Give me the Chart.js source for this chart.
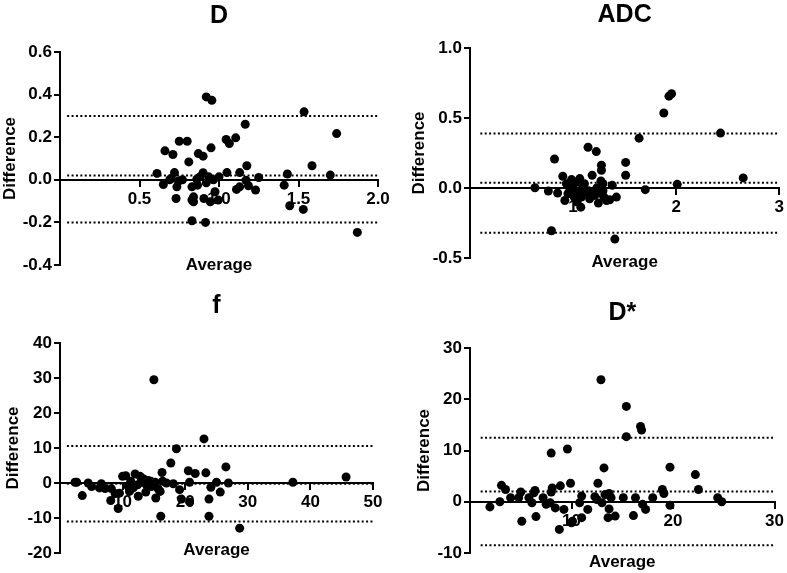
<!DOCTYPE html>
<html>
<head>
<meta charset="utf-8">
<script src="https://cdn.jsdelivr.net/npm/chart.js@4"></script>
<style>
  body { margin: 0; background: #fff; width: 787px; height: 573px; position: relative; overflow: hidden; }
  canvas { position: absolute; }
</style>
</head>
<body>
<canvas id="cD" width="395" height="286" style="left:0;top:0"></canvas>
<canvas id="cADC" width="392" height="286" style="left:395px;top:0"></canvas>
<canvas id="cF" width="395" height="283" style="left:0;top:290px"></canvas>
<canvas id="cDs" width="392" height="283" style="left:395px;top:290px"></canvas>
<script>
// Bland-Altman data (average, difference)
const dAvg = [0.61, 0.66, 0.65, 0.69, 0.70, 0.71, 0.72, 0.735, 0.745, 0.73, 0.75, 0.77, 0.80, 0.81, 0.83, 0.83, 0.83, 0.84, 0.84,
  0.86, 0.87, 0.90, 0.865, 0.88, 0.90, 0.905, 0.92, 0.955, 0.915, 0.92, 0.935, 0.945, 0.95, 0.965, 0.975, 1.0, 0.995,
  1.045, 1.05, 1.065, 1.105, 1.11, 1.13, 1.13, 1.165, 1.17, 1.175, 1.185, 1.23, 1.25, 1.41, 1.43, 1.445, 1.53, 1.535,
  1.585, 1.70, 1.74, 1.87];
const dDiff = [0.03, 0.136, -0.022, 0.0, 0.006, 0.119, 0.034, -0.033, -0.006, -0.088, 0.181, 0.0, 0.181, 0.084, -0.033, -0.095, -0.192, -0.103, -0.08,
  0.002, 0.123, 0.111, -0.025, 0.014, 0.033, -0.088, 0.389, 0.373, -0.20, -0.014, 0.014, -0.103, 0.15, 0.0, -0.056, 0.014, -0.095,
  0.189, 0.034, 0.17, 0.197, -0.045, 0.034, -0.033, 0.261, -0.002, 0.066, -0.028, -0.048, 0.011, -0.025, 0.027, -0.122, -0.139, 0.319,
  0.066, 0.022, 0.217, -0.247];
const dLimits = [0.30, 0.02, -0.20];

const adcAvg = [0.63, 0.76, 0.79, 0.82, 0.85, 0.90, 0.92, 0.935, 0.95, 0.97, 0.985, 1.0, 1.01, 1.03, 1.04, 1.05, 1.065, 1.075, 1.08,
  1.09, 1.11, 1.12, 1.145, 1.15, 1.16, 1.185, 1.195, 1.21, 1.225, 1.23, 1.245, 1.26, 1.27, 1.275, 1.275, 1.29, 1.29, 1.30,
  1.325, 1.355, 1.38, 1.405, 1.42, 1.51, 1.51, 1.64, 1.70, 1.88, 1.93, 1.955, 2.01, 2.43, 2.65];
const adcDiff = [0.002, -0.022, -0.305, 0.207, -0.036, 0.084, -0.089, 0.031, -0.041, -0.01, 0.06, 0.007, -0.065, 0.043, -0.10, -0.029, 0.067, -0.137, -0.065,
  0.0, 0.031, -0.036, 0.291, -0.02, -0.077, 0.091, -0.029, -0.053, 0.26, 0.0, -0.108, -0.036, 0.05, 0.163, 0.127, 0.031, -0.02, -0.065,
  -0.089, -0.084, 0.019, -0.365, -0.065, 0.183, 0.091, 0.356, -0.012, 0.536, 0.656, 0.673, 0.026, 0.392, 0.072];
const adcLimits = [0.39, 0.037, -0.32];

const fAvg = [2.4, 2.66, 3.56, 4.5, 5.05, 6.3, 6.6, 7.2, 8.2, 8.1, 8.8, 9.3, 9.5, 10.0, 10.5, 10.9, 11.1, 11.3, 11.7, 12.0,
  12.4, 12.5, 12.8, 13.0, 13.3, 13.7, 13.8, 14.1, 14.5, 14.6, 15.0, 15.2, 15.3, 15.7, 16.0, 16.1, 16.3, 16.4, 17.0, 17.7,
  18.1, 18.6, 19.1, 19.4, 20.5, 20.7, 20.7, 21.6, 23.0, 23.3, 23.8, 23.8, 24.1, 25.0, 25.6, 26.5, 26.9, 28.7, 37.2, 45.7];
const fDiff = [0.2, 0.2, -3.6, 0, -1.0, -1.4, -0.2, -1.6, -1.6, -5.0, -3.0, -7.3, -2.9, 1.9, 2.1, -1.0, -2.4, 0.5, -1.4, 2.6,
  -0.5, -3.8, 1.9, 0.2, 1.2, -2.6, -0.5, 0.7, 0.5, -1.0, 29.5, 0.2, -4.3, -1.7, -2.4, -9.5, 3.0, 0.5, 0, 5.7,
  -0.2, 9.8, -1.9, -4.6, 3.5, 0.2, -5.4, 2.7, 12.6, 2.9, -4.6, -9.5, -1.2, 0.2, -2.6, 4.6, 0, -12.9, 0.2, 1.7];
const fLimits = [10.6, -0.2, -11.0];

const dsAvg = [1.96, 2.94, 3.1, 3.5, 4.0, 4.8, 5.0, 5.1, 5.8, 6.1, 6.3, 6.4, 6.5, 7.2, 7.5, 7.9, 8.0, 8.1, 8.0, 8.4,
  8.8, 8.9, 9.25, 9.6, 9.9, 10.0, 10.1, 10.8, 11.0, 11.0, 11.6, 12.3, 12.5, 12.6, 12.9, 13.0, 13.2, 13.3, 13.6, 13.7,
  13.7, 13.9, 14.3, 15.1, 15.4, 15.4, 16.1, 16.3, 16.8, 16.9, 17.0, 17.3, 18.0, 18.95, 19.1, 19.7, 19.7, 22.2, 22.5, 24.4, 24.8];
const dsDiff = [-1.0, 0, 3.2, 2.4, 0.8, 0.8, 1.9, -3.8, 0.8, -0.2, 1.75, 2.2, -2.9, 0.8, -0.5, -0.2, 9.5, 2.7, 1.9, -1.2,
  -5.4, 3.1, -1.5, 10.3, 3.6, -4.1, -3.8, -0.2, 1.1, -3.1, -1.5, 1.0, 0.45, 3.6, 23.8, -0.2, 6.6, 1.4, -3.1, 1.6,
  -1.4, 0.8, -2.8, 0.8, 18.6, 12.7, -2.7, 0.8, 14.7, 14.0, -0.5, -1.5, 0.8, 2.4, 1.6, 6.75, -0.7, 5.3, 2.4, 0.8, 0];
const dsLimits = [12.5, 2.0, -8.5];

Chart.defaults.font.family = '"Liberation Sans", Arial, sans-serif';
Chart.defaults.color = '#000';

// draws the x axis title at the foot of the y axis, like the original figure
const averageLabel = {
  id: 'averageLabel',
  afterDraw(chart, args, opts) {
    const { ctx, chartArea } = chart;
    ctx.save();
    ctx.font = 'bold 17px "Liberation Sans", Arial, sans-serif';
    ctx.fillStyle = '#000';
    ctx.textAlign = 'center';
    ctx.textBaseline = 'middle';
    ctx.fillText(opts.text, (chartArea.left + chartArea.right) / 2, chartArea.bottom + opts.offset);
    ctx.restore();
  }
};

function makePanel(id, title, avg, diff, limits, span, xr, yr, lay) {
  const points = avg.map((a, i) => ({ x: a, y: diff[i] }));
  const datasets = [{
    data: points,
    backgroundColor: '#000',
    borderWidth: 0,
    pointRadius: 4.5
  }];
  limits.forEach(v => {
    datasets.push({
      data: [{ x: span[0], y: v }, { x: span[1], y: v }],
      showLine: true,
      borderColor: '#000',
      borderWidth: 2,
      borderDash: [2, 2.4],
      pointRadius: 0
    });
  });

  new Chart(document.getElementById(id), {
    type: 'scatter',
    data: { datasets: datasets },
    options: {
      responsive: false,
      animation: false,
      layout: { padding: lay.padding },
      plugins: {
        legend: { display: false },
        tooltip: { enabled: false },
        title: {
          display: true,
          text: title,
          fullSize: false,
          font: { size: 25, weight: 'bold' },
          color: '#000',
          padding: lay.titlePad
        },
        averageLabel: { text: 'Average', offset: lay.avgOffset }
      },
      scales: {
        x: {
          type: 'linear',
          position: { y: 0 },
          min: xr[0], max: xr[1],
          ticks: {
            stepSize: xr[2],
            font: { size: 17, weight: 'bold' },
            color: '#000',
            padding: 3,
            callback: v => v === 0 ? '' : v.toFixed(xr[3])
          },
          grid: { drawOnChartArea: false, drawTicks: true, tickLength: 6, color: '#000', lineWidth: 2 },
          border: { display: true, color: '#000', width: 2 }
        },
        y: {
          type: 'linear',
          position: 'left',
          min: yr[0], max: yr[1],
          afterFit: s => { s.width = lay.yWidth; },
          ticks: {
            stepSize: yr[2],
            font: { size: 17, weight: 'bold' },
            color: '#000',
            padding: 2,
            callback: v => v.toFixed(yr[3])
          },
          title: {
            display: true,
            text: 'Difference',
            font: { size: 17, weight: 'bold' },
            color: '#000',
            padding: 0
          },
          grid: { drawOnChartArea: false, drawTicks: true, tickLength: 6, color: '#000', lineWidth: 2 },
          border: { display: true, color: '#000', width: 2 }
        }
      }
    },
    plugins: [averageLabel]
  });
}

makePanel('cD', 'D', dAvg, dDiff, dLimits, [0.045, 2.0], [0, 2, 0.5, 1], [-0.4, 0.6, 0.2, 1],
  { padding: { left: 0, right: 17, top: 0, bottom: 21 }, yWidth: 60, titlePad: { top: 1, bottom: 21 }, avgOffset: 0 });
makePanel('cADC', 'ADC', adcAvg, adcDiff, adcLimits, [0.1, 3.0], [0, 3, 1, 0], [-0.5, 1.0, 0.5, 1],
  { padding: { left: 14, right: 6, top: 0, bottom: 28 }, yWidth: 61, titlePad: { top: 0, bottom: 18 }, avgOffset: 4 });
makePanel('cF', 'f', fAvg, fDiff, fLimits, [1.1, 50], [0, 50, 10, 0], [-20, 40, 10, 0],
  { padding: { left: 3, right: 22, top: 0, bottom: 20 }, yWidth: 57, titlePad: { top: 1, bottom: 22 }, avgOffset: -3 });
makePanel('cDs', 'D*', dsAvg, dsDiff, dsLimits, [1.05, 30], [0, 30, 10, 0], [-10, 30, 10, 0],
  { padding: { left: 19, right: 10, top: 0, bottom: 20 }, yWidth: 56, titlePad: { top: 8, bottom: 20 }, avgOffset: 9 });
</script>
</body>
</html>
